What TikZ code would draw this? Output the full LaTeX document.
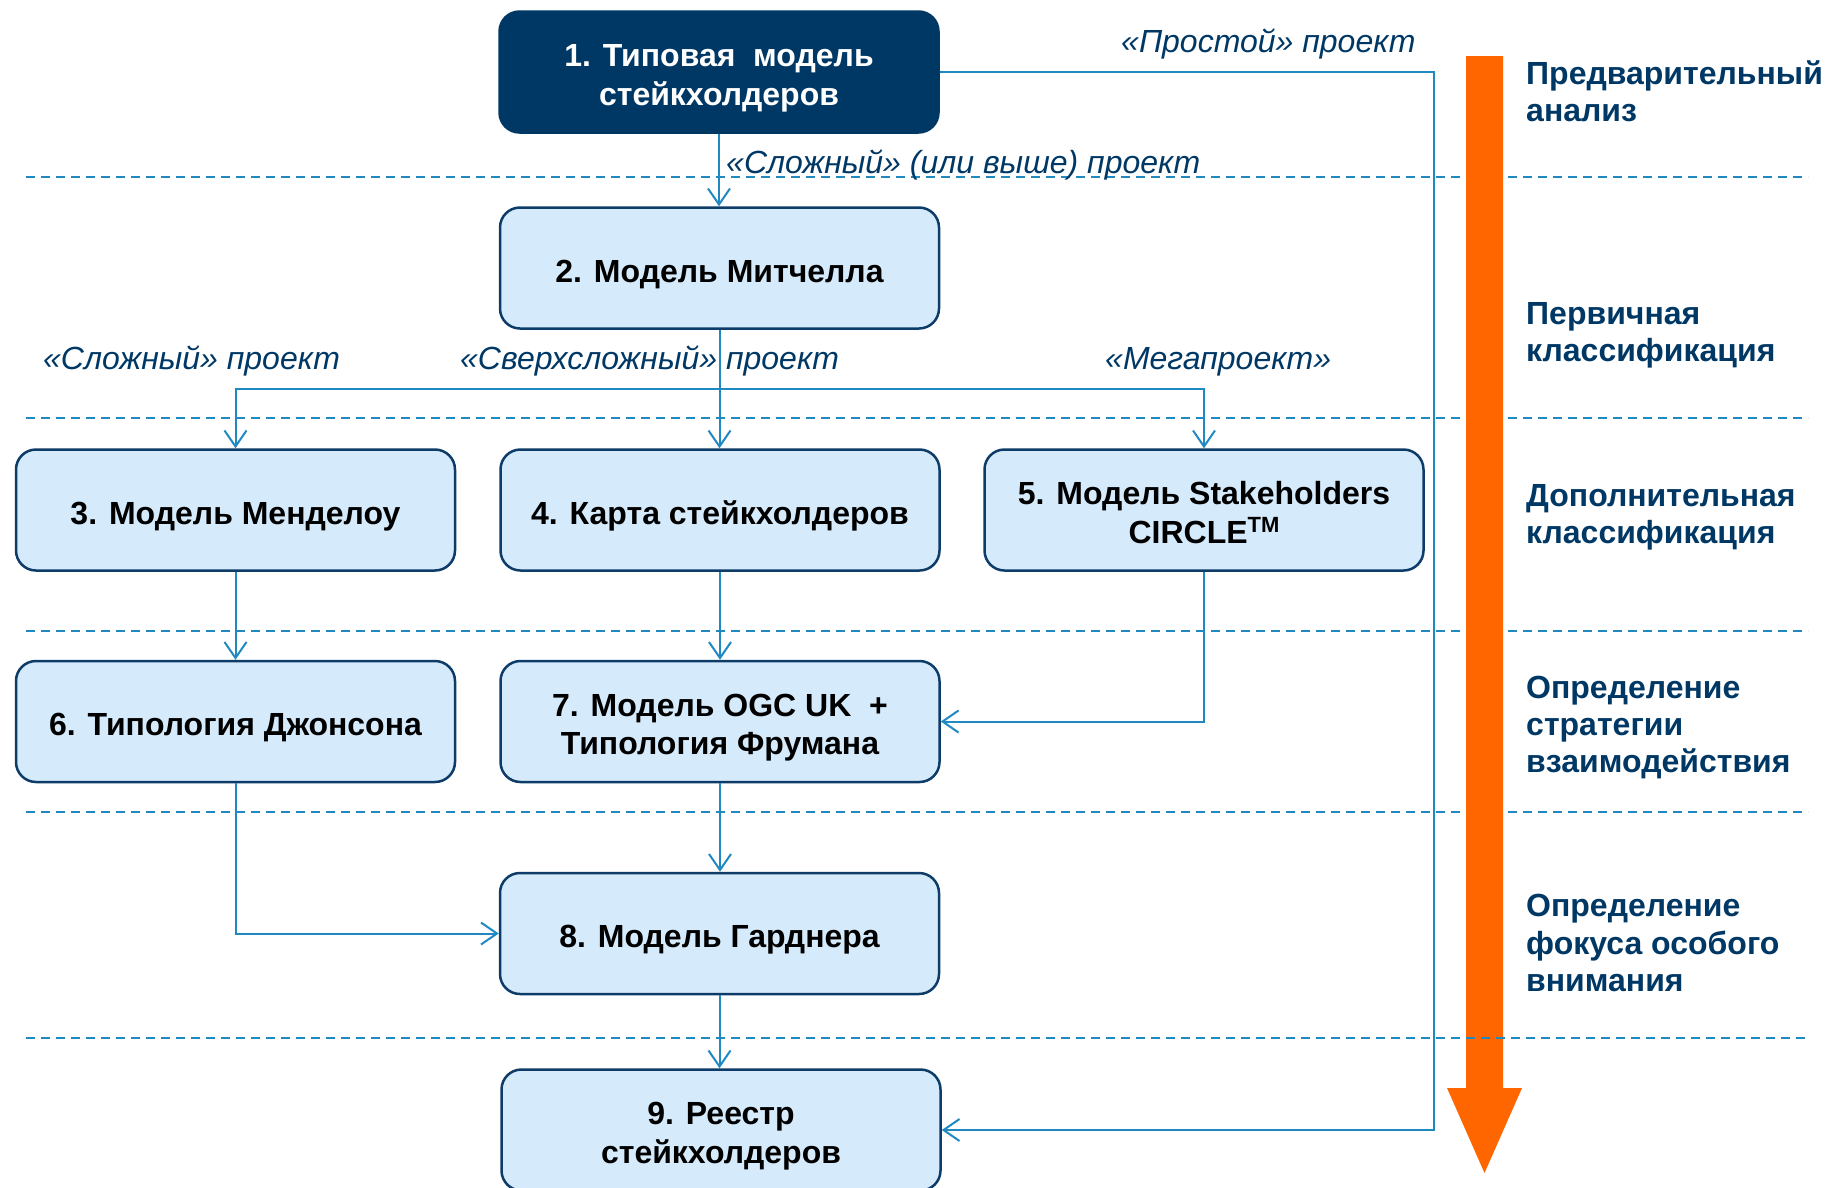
\documentclass[tikz,border=0pt]{standalone}
\usepackage{fontspec}
\setmainfont{Liberation Sans}
\usetikzlibrary{arrows.meta}
\definecolor{navy}{HTML}{003865}
\definecolor{boxfill}{HTML}{D5EAFB}
\definecolor{boxline}{HTML}{0E3C68}
\definecolor{connc}{HTML}{2089C2}
\definecolor{orng}{HTML}{FF6600}
\newcommand{\hstr}{\rule{0pt}{35pt}}
\newcommand{\dstr}{\rule[-7pt]{0pt}{0pt}}
\tikzset{
 model/.style={draw=boxline, line width=2.5pt, fill=boxfill, rounded corners=20pt, minimum width=439pt, minimum height=121pt, inner sep=0pt, align=center, font=\fontsize{32}{38.5}\selectfont\bfseries, text=black},
 topmodel/.style={model, fill=navy, draw=navy, text=white},
 link/.style={draw=connc, line width=2pt},
 arr/.style={link, -{Straight Barb[length=16pt,width=22pt,line width=2pt]}},
 sepline/.style={draw=connc, line width=2pt, dash pattern=on 9pt off 6pt},
 caselabel/.style={font=\fontsize{32}{38}\selectfont\itshape, text=navy, inner sep=0pt, anchor=base west},
 stagelabel/.style={font=\fontsize{32}{37.4}\selectfont\bfseries, text=navy, inner sep=0pt, anchor=west, align=left},
}
\begin{document}
\begin{tikzpicture}[x=1pt,y=-1pt]
\useasboundingbox (0,0) rectangle (1831,1187);
\fill[white] (0,0) rectangle (1831,1187);
% separators
\foreach \yy in {177,418,631,812}{
  \draw[sepline] (26,\yy) -- (1462,\yy);
  \draw[sepline] (1508,\yy) -- (1808,\yy);
}
% orange arrow
\fill[orng] (1466,56) -- (1503,56) -- (1503,1088) -- (1522,1088) -- (1484.5,1173) -- (1447,1088) -- (1466,1088) -- cycle;
\draw[sepline] (26,1038) -- (1808,1038);
% boxes
\node[topmodel] (b1) at (719,72) {\hstr 1. Типовая\ \ модель\\стейкхолдеров\dstr};
\node[model] (b2) at (719.5,268) {\hstr 2. Модель Митчелла\dstr};
\node[model] (b3) at (235.5,510) {\hstr 3. Модель Менделоу\dstr};
\node[model] (b4) at (720,510) {\hstr 4. Карта стейкхолдеров\dstr};
\node[model] (b5) at (1204,510) {\hstr 5. Модель Stakeholders\\CIRCLE\raisebox{0.33em}{\fontsize{22}{22}\selectfont TM}\dstr};
\node[model] (b6) at (235.5,721.5) {\hstr 6. Типология Джонсона\dstr};
\node[model] (b7) at (720,721.5) {\hstr 7. Модель OGC UK\ \ +\\Типология Фрумана\dstr};
\node[model] (b8) at (719.5,933.5) {\hstr 8. Модель Гарднера\dstr};
\node[model] (b9) at (721,1130) {\hstr 9. Реестр\\стейкхолдеров\dstr};
% connectors
\coordinate (fork) at (719,389);
\coordinate (simple) at (1434,72);
\draw[arr] (b1.south) -- (b1.south |- b2.north);
\draw[arr] (b2.south) -- (b2.south |- b4.north);
\draw[arr] (fork) -| (b3.north);
\draw[arr] (fork) -| (b5.north);
\draw[arr] (b3.south) -- (b6.north);
\draw[arr] (b4.south) -- (b7.north);
\draw[arr] (b5.south) |- (b7.east);
\draw[arr] (b6.south) |- (b8.west);
\draw[arr] (b7.south) -- (b7.south |- b8.north);
\draw[arr] (b8.south) -- (b8.south |- b9.north);
\draw[arr] (b1.east) -- (simple) |- (b9.east);
% case labels
\node[caselabel] (l1) at (1121,52) {«Простой» проект};
\node[caselabel] (l2) at (726,173) {«Сложный» (или выше) проект};
\node[caselabel] (l3) at (43,369) {«Сложный» проект};
\node[caselabel] (l4) at (460,369) {«Сверхсложный» проект};
\node[caselabel] (l5) at (1105,369) {«Мегапроект»};
% stage labels
\node[stagelabel] (s1) at (1526,91) {Предварительный\\анализ};
\node[stagelabel] (s2) at (1526,335.5) {Первичная\\классификация};
\node[stagelabel] (s3) at (1526,517.5) {Дополнительная\\классификация};
\node[stagelabel] (s4) at (1526,727.5) {Определение\\стратегии\\взаимодействия};
\node[stagelabel] (s5) at (1526,943) {Определение\\фокуса особого\\внимания};
\end{tikzpicture}
\end{document}
